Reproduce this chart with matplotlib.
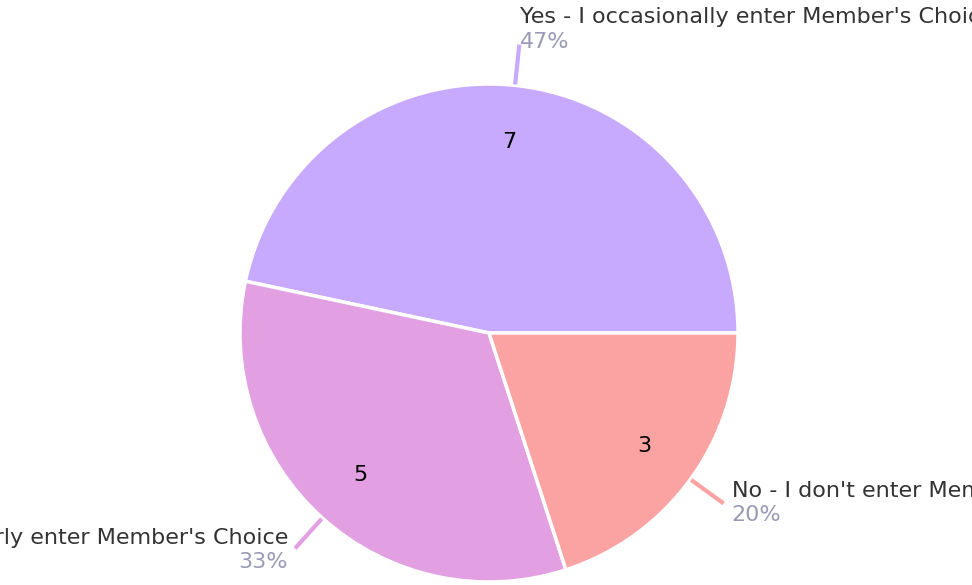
import matplotlib
matplotlib.use("Agg")
import matplotlib.pyplot as plt
import numpy as np

labels = ["Yes - I occasionally enter Member's Choice",
          "Yes - I regularly enter Member's Choice",
          "No - I don't enter Member's Choice"]
counts = [7, 5, 3]
colors = ["#C7A9FE", "#E2A0E3", "#FBA3A3"]

W, H = 972, 585
CX, CY, R = 489, H - 333, 249
FONT = "DejaVu Sans"

fig = plt.figure(figsize=(9.72, 5.85), dpi=100)
ax = fig.add_axes([0, 0, 1, 1])

wedges, _, autotexts = ax.pie(
    counts, colors=colors, startangle=0, counterclock=True,
    center=(CX, CY), radius=R, labels=None,
    autopct=lambda p: f"{round(p * sum(counts) / 100):d}",
    pctdistance=0.77, frame=True,
    wedgeprops=dict(edgecolor="white", linewidth=2.5))
for t in autotexts:
    t.set_fontsize(16)
    t.set_family(FONT)
    t.set_color("black")
ax.set_xlim(0, W)
ax.set_ylim(0, H)
ax.axis("off")

total = sum(counts)
for w, lab, n, col in zip(wedges, labels, counts, colors):
    ang = np.deg2rad((w.theta1 + w.theta2) / 2)
    c, s = np.cos(ang), np.sin(ang)
    x0, y0 = CX + 250 * c, CY + 250 * s
    x1, y1 = CX + 290 * c, CY + 290 * s
    ax.plot([x0, x1], [y0, y1], color=col, lw=3, solid_capstyle="butt")
    pct = f"{100 * n / total:.0f}%"
    kw = dict(va="center", fontsize=16, family=FONT)
    if abs(c) < 0.3:
        ax.text(x1 + 1, y1 + 28, lab, ha="left", color="#333333", **kw)
        ax.text(x1 + 1, y1 + 3, pct, ha="left", color="#9A9AB8", **kw)
    elif c > 0:
        ax.text(x1 + 8, y1 + 12, lab, ha="left", color="#333333", **kw)
        ax.text(x1 + 8, y1 - 12, pct, ha="left", color="#9A9AB8", **kw)
    else:
        ax.text(x1 - 7, y1 + 11, lab, ha="right", color="#333333", **kw)
        ax.text(x1 - 7, y1 - 13, pct, ha="right", color="#9A9AB8", **kw)

fig.savefig("out.png", dpi=100, facecolor="white")
